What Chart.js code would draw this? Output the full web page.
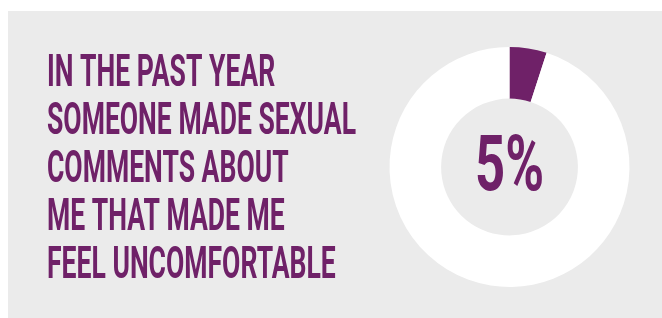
<!DOCTYPE html>
<html>
<head>
<meta charset="utf-8">
<script src="https://cdn.jsdelivr.net/npm/chart.js@4"></script>
<style>
  html, body { margin: 0; padding: 0; background: #fff; }
  #wrap { width: 662px; height: 318px; position: relative; }
</style>
</head>
<body>
<div id="wrap"><canvas id="harassChart"></canvas></div>
<script>
// data
const categories = ['Yes', 'No'];
const shares = [5, 95];
const sliceColors = ['#6f2168', '#ffffff'];
const headline = [
  'IN THE PAST YEAR',
  'SOMEONE MADE SEXUAL',
  'COMMENTS ABOUT',
  'ME THAT MADE ME',
  'FEEL UNCOMFORTABLE'
];

const purple = '#6f2168';
const panelGrey = '#ebebeb';

// grey panel behind everything + text block on the left
const panelPlugin = {
  id: 'panel',
  beforeDraw(chart) {
    const c = chart.ctx;
    c.save();
    c.fillStyle = panelGrey;
    c.fillRect(8, 11, chart.width - 8, chart.height - 11);
    c.restore();
  },
  afterDraw(chart) {
    const c = chart.ctx;
    c.save();
    c.fillStyle = purple;
    c.textBaseline = 'alphabetic';
    c.textAlign = 'left';
    c.font = 'bold 45px Roboto';
    // squeeze to look like a condensed face; widest line is ~309px
    const sx = 309 / c.measureText(headline[1]).width;
    headline.forEach((line, i) => {
      c.save();
      c.translate(47, 86 + i * 48);
      c.scale(sx, 1);
      c.fillText(line, 0, 0);
      c.restore();
    });

    // big percentage in the hole
    const meta = chart.getDatasetMeta(0).data[0];
    const pct = shares[0] + '%';
    c.font = 'bold 77px Roboto';
    const px = 69 / c.measureText(pct).width;
    c.save();
    c.translate(meta.x, 190);
    c.scale(px, 1);
    c.textAlign = 'center';
    c.fillText(pct, 0, 0);
    c.restore();
    c.restore();
  }
};

const ctx = document.getElementById('harassChart').getContext('2d');
new Chart(ctx, {
  type: 'doughnut',
  data: {
    labels: categories,
    datasets: [{
      data: shares,
      backgroundColor: sliceColors,
      borderWidth: 0
    }]
  },
  options: {
    responsive: true,
    maintainAspectRatio: false,
    devicePixelRatio: 1,
    animation: false,
    cutout: '57%',
    layout: {
      padding: { left: 389.5, right: 32.5, top: 47, bottom: 31 }
    },
    plugins: {
      legend: { display: false },
      tooltip: { enabled: false }
    }
  },
  plugins: [panelPlugin]
});
</script>
</body>
</html>
